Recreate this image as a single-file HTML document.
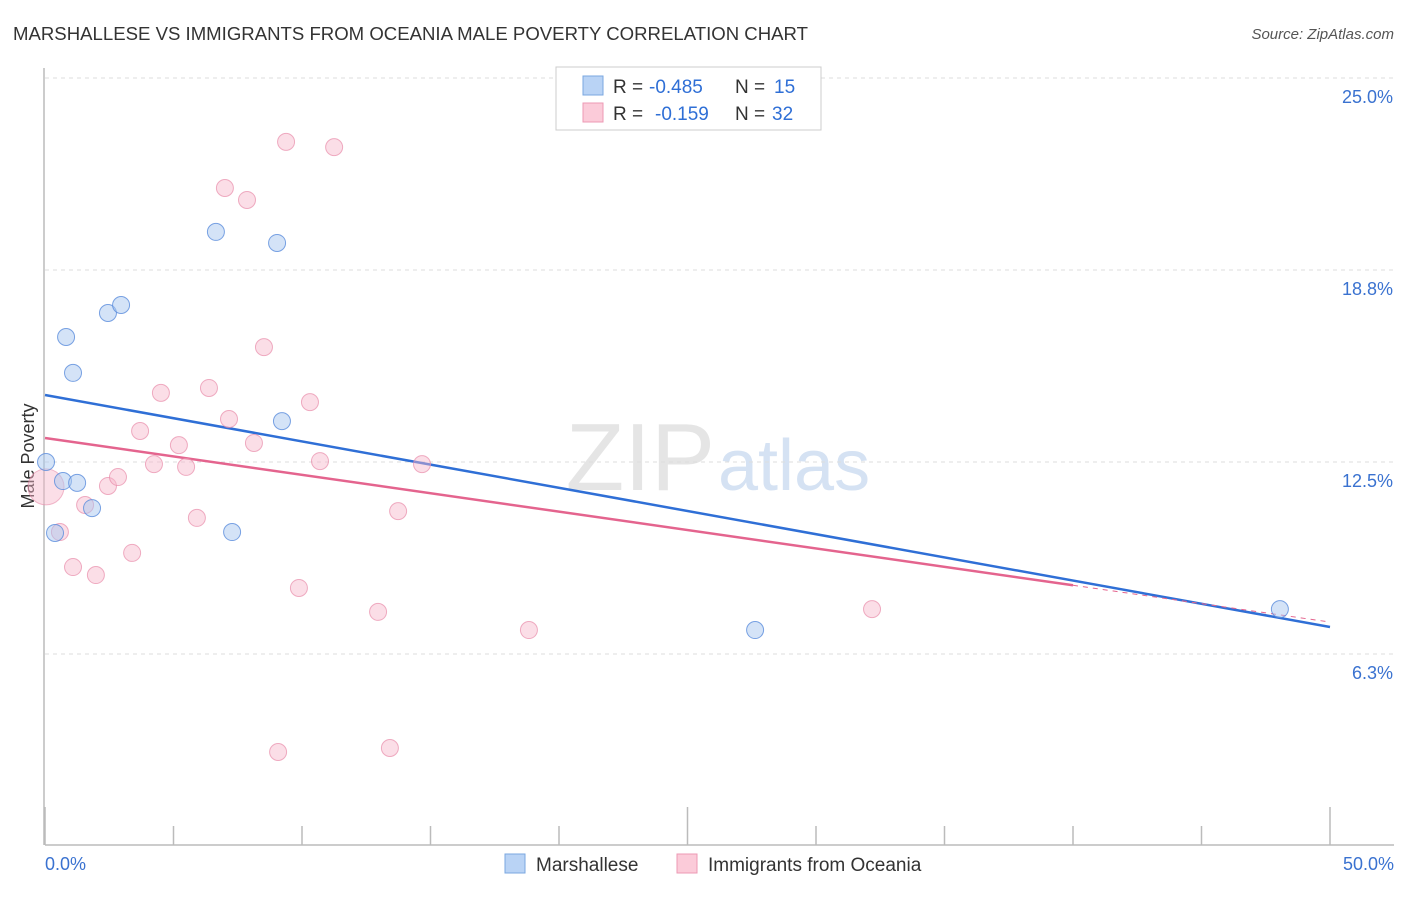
<!DOCTYPE html>
<html><head><meta charset="utf-8"><style>
body{margin:0;background:#fff;font-family:"Liberation Sans",sans-serif;}
svg text{font-family:"Liberation Sans",sans-serif;}
</style></head><body>
<svg width="1406" height="892" xmlns="http://www.w3.org/2000/svg">
<text x="13" y="40" font-size="18" fill="#333" textLength="795" lengthAdjust="spacingAndGlyphs">MARSHALLESE VS IMMIGRANTS FROM OCEANIA MALE POVERTY CORRELATION CHART</text>
<text x="1394" y="39" font-size="15" fill="#555" text-anchor="end" font-style="italic">Source: ZipAtlas.com</text>
<text x="715" y="490" font-size="96" fill="#e5e5e5" text-anchor="end" font-family="Liberation Serif">ZIP</text>
<text x="718" y="490" font-size="72" fill="#d5e2f3">atlas</text>
<g id="grid"></g>
<g id="axes"></g>
<text x="34" y="456" font-size="18" fill="#333" text-anchor="middle" transform="rotate(-90 34 456)">Male Poverty</text>
<g id="trends"></g>
<g id="points"></g>
<g>
<rect x="556" y="67" width="265" height="63" fill="#fff" stroke="#ccc"/>
<rect x="583" y="76" width="20" height="19" fill="#b9d3f5" stroke="#7aa7e0"/>
<rect x="583" y="103" width="20" height="19" fill="#fbcbd9" stroke="#ec9ab4"/>
<text x="613" y="93" font-size="19" fill="#333">R =</text>
<text x="649" y="93" font-size="19" fill="#2f6fd6">-0.485</text>
<text x="735" y="93" font-size="19" fill="#333">N =</text>
<text x="774" y="93" font-size="19" fill="#2f6fd6">15</text>
<text x="613" y="120" font-size="19" fill="#333">R =</text>
<text x="655" y="120" font-size="19" fill="#2f6fd6">-0.159</text>
<text x="735" y="120" font-size="19" fill="#333">N =</text>
<text x="772" y="120" font-size="19" fill="#2f6fd6">32</text>
</g>
<g>
<rect x="505" y="854" width="20" height="19" fill="#b9d3f5" stroke="#7aa7e0"/>
<text x="536" y="871" font-size="19" fill="#333">Marshallese</text>
<rect x="677" y="854" width="20" height="19" fill="#fbcbd9" stroke="#ec9ab4"/>
<text x="708" y="871" font-size="19" fill="#333">Immigrants from Oceania</text>
</g>
</svg>
<script>
const yTicks=[6.25,12.5,18.75,25];
const yTickLabels=["6.3%","12.5%","18.8%","25.0%"];
const xTickLabels=["0.0%","50.0%"];
const blueX=[0.04,0.39,0.7,1.25,1.83,0.82,1.09,2.45,2.96,6.65,9.03,9.22,7.28,27.63,48.05];
const blueY=[12.5,10.19,11.88,11.82,11.0,16.57,15.4,17.35,17.61,19.99,19.63,13.83,10.22,7.03,7.71];
const pinkX=[0.58,1.09,1.56,1.98,2.45,2.84,3.39,3.7,4.24,4.51,5.21,5.49,5.91,6.38,7.0,7.16,7.86,8.13,8.52,9.38,9.07,9.88,10.31,10.7,11.25,12.96,13.42,13.74,14.67,18.83,32.18];
const pinkY=[10.22,9.08,11.1,8.82,11.72,12.01,9.54,13.51,12.43,14.75,13.05,12.34,10.68,14.91,21.42,13.9,21.03,13.12,16.24,22.92,3.06,8.4,14.45,12.53,22.75,7.62,3.19,10.9,12.43,7.03,7.71];
const bigPink=[0.04,11.69];
const blueTrend=[14.68,7.13];
const pinkTrend=[13.28,7.29];
const X=v=>45+v*25.7;
const Y=v=>846-v*30.72;
const NS="http://www.w3.org/2000/svg";
function mk(tag,attrs,parent){const e=document.createElementNS(NS,tag);for(const k in attrs)e.setAttribute(k,attrs[k]);parent.appendChild(e);return e;}
const grid=document.getElementById('grid'),axes=document.getElementById('axes'),tr=document.getElementById('trends'),pts=document.getElementById('points');
yTicks.forEach((t,i)=>{
 const l=mk('line',{x1:45,x2:1394,y1:Y(t),y2:Y(t),stroke:'#ddd','stroke-dasharray':'4,4'},grid);
 
 
 const tx=mk('text',{x:1393,y:Y(t)+25,'font-size':18,fill:'#3a72d0','text-anchor':'end'},grid);
 tx.textContent=yTickLabels[i];
 
 
});
const ax=mk('line',{x1:45,x2:1394,y1:845,y2:845,stroke:'#bbb','stroke-width':1.5},axes);


const ay=mk('line',{x1:44,x2:44,y1:68,y2:845,stroke:'#bbb','stroke-width':1.5},axes);


for(let i=0;i<=10;i++){const v=i*5;const tall=(i==0||i==5||i==10);
 const t=mk('line',{x1:X(v),x2:X(v),y1:tall?807:826,y2:845,stroke:'#bbb','stroke-width':1.5},axes);
 
 }
[[0,'start',45],[50,'end',1394]].forEach((d,i)=>{const t=mk('text',{x:d[2],y:870,'font-size':18,fill:'#3a72d0','text-anchor':d[1]},axes);t.textContent=xTickLabels[i];
 
 });
const bl=mk('line',{x1:X(0),y1:Y(blueTrend[0]),x2:X(50),y2:Y(blueTrend[1]),stroke:'#2f6fd6','stroke-width':2.5},tr);


const pm=pinkTrend[0]+(pinkTrend[1]-pinkTrend[0])*0.8;
const pl=mk('line',{x1:X(0),y1:Y(pinkTrend[0]),x2:X(40),y2:Y(pm),stroke:'#e4648e','stroke-width':2.5},tr);


const pd=mk('line',{x1:X(40),y1:Y(pm),x2:X(50),y2:Y(pinkTrend[1]),stroke:'#e4648e','stroke-width':1,'stroke-dasharray':'5,5'},tr);


const bp=mk('circle',{cx:X(bigPink[0]),cy:Y(bigPink[1]),r:18,fill:'rgba(246,182,201,0.45)',stroke:'rgba(232,140,170,0.6)'},pts);


pinkX.forEach((x,i)=>{const c=mk('circle',{cx:X(x),cy:Y(pinkY[i]),r:8.5,fill:'rgba(246,182,201,0.45)',stroke:'rgba(232,140,170,0.7)'},pts);
 
 });
blueX.forEach((x,i)=>{const c=mk('circle',{cx:X(x),cy:Y(blueY[i]),r:8.5,fill:'rgba(170,200,240,0.5)',stroke:'rgba(90,140,220,0.8)'},pts);
 
 });
</script>
</body></html>
